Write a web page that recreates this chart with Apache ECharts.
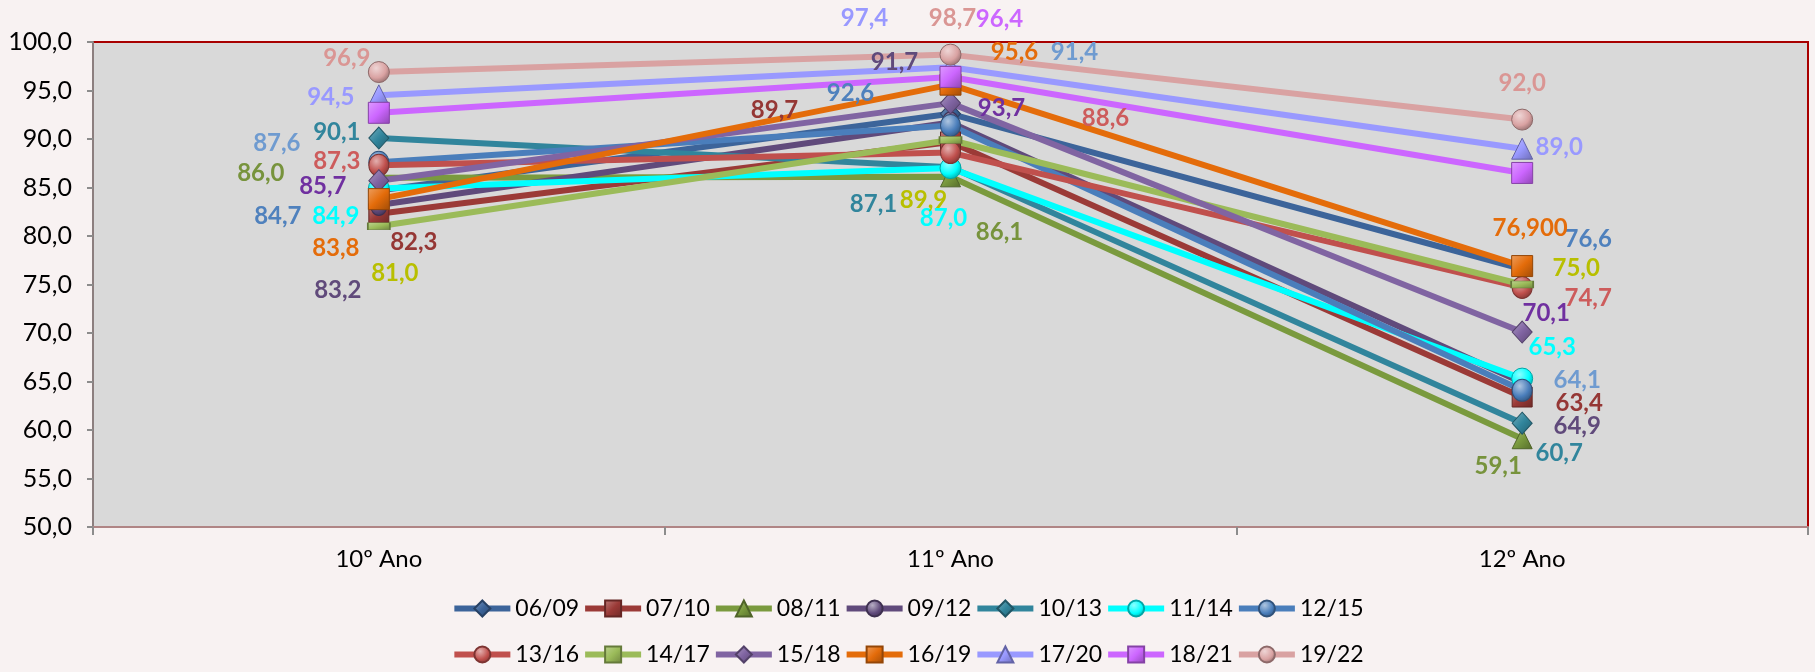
<!DOCTYPE html>
<html>
<head>
<meta charset="utf-8">
<script src="https://cdn.jsdelivr.net/npm/echarts@6/dist/echarts.min.js"></script>
<style>
html,body{margin:0;padding:0;background:#F8F2F2;}
#chart{width:1815px;height:672px;}
</style>
</head>
<body>
<div id="chart"></div>
<script>
// ---- data ----
const categories = ['10º Ano', '11º Ano', '12º Ano'];
const seriesNames = ['06/09','07/10','08/11','09/12','10/13','11/14','12/15','13/16','14/17','15/18','16/19','17/20','18/21','19/22'];
const s0609 = [84.7, 92.6, 76.6];
const s0710 = [82.3, 89.7, 63.4];
const s0811 = [86.0, 86.1, 59.1];
const s0912 = [83.2, 91.7, 64.9];
const s1013 = [90.1, 87.1, 60.7];
const s1114 = [84.9, 87.0, 65.3];
const s1215 = [87.6, 91.4, 64.1];
const s1316 = [87.3, 88.6, 74.7];
const s1417 = [81.0, 89.9, 75.0];
const s1518 = [85.7, 93.7, 70.1];
const s1619 = [83.8, 95.6, 76.9];
const s1720 = [94.5, 97.4, 89.0];
const s1821 = [92.7, 96.4, 86.5];
const s1922 = [96.9, 98.7, 92.0];
const yTicks = [50, 55, 60, 65, 70, 75, 80, 85, 90, 95, 100];

const seriesValues = [s0609,s0710,s0811,s0912,s1013,s1114,s1215,s1316,s1417,s1518,s1619,s1720,s1821,s1922];

// ---- styles ----
const styleCfg = {
  '06/09': {line:'#3C649A', label:'#4F81BD', symbol:'diamond', size:[20,22]},
  '07/10': {line:'#9B3A37', label:'#953735', symbol:'rect', size:20},
  '08/11': {line:'#7A9A3E', label:'#77933C', symbol:'triangle', size:20},
  '09/12': {line:'#604A7B', label:'#604A7B', symbol:'circle', size:[17,21]},
  '10/13': {line:'#31859C', label:'#31859C', symbol:'diamond', size:[20,22]},
  '11/14': {line:'#00FFFF', label:'#00FFFF', symbol:'circle', size:21},
  '12/15': {line:'#4A7EBB', label:'#6F9BD0', symbol:'circle', size:[20,22]},
  '13/16': {line:'#C0504D', label:'#CD5C5C', symbol:'circle', size:[20,22]},
  '14/17': {line:'#9BBB59', label:'#B8BF00', symbol:'rect', size:[22,7]},
  '15/18': {line:'#8064A2', label:'#7030A0', symbol:'diamond', size:[20,22]},
  '16/19': {line:'#E46C0A', label:'#E46C0A', symbol:'rect', size:21},
  '17/20': {line:'#9999FF', label:'#9999FF', symbol:'triangle', size:21},
  '18/21': {line:'#CC66FF', label:'#CC66FF', symbol:'rect', size:21},
  '19/22': {line:'#D9A2A2', label:'#DA9694', symbol:'circle', size:21}
};
// label offsets in px relative to the point (null = no label)
const labelOffsets = {
  '06/09': [[-101,26],[-100,-21],[66,-30]],
  '07/10': [[35,29],[-176,-32],[57,6]],
  '08/11': [[-118,-5],[49,55],[-24,28]],
  '09/12': [[-41,85],[-56,-60],[55,44]],
  '10/13': [[-42,-6],[-77,37],[37,30]],
  '11/14': [[-43,28],[-7,50],[30,-31]],
  '12/15': [[-102,-19],[124,-73],[55,-10]],
  '13/16': [[-42,-4],[155,-34],[66,11]],
  '14/17': [[16,47],[-27,60],[54,-16]],
  '15/18': [[-56,6],[51,5],[24,-19]],
  '16/19': [[-43,49],[64,-32],[8,-38]],
  '17/20': [[-48,2],[-86,-49],[37,-1]],
  '18/21': [null,[49,-58],null],
  '19/22': [[-32,-14],[2,-36],[0,-36]]
};
const labelDecimals = {'16/19': [1,1,3]};

function shade(hex, amt){
  const n = parseInt(hex.slice(1),16);
  let r=(n>>16)&255,g=(n>>8)&255,b=n&255;
  const f = c => Math.max(0,Math.min(255,Math.round(amt>0 ? c+(255-c)*amt : c*(1+amt))));
  return 'rgb('+f(r)+','+f(g)+','+f(b)+')';
}
function fmt(v, d){ return v.toFixed(d).replace('.', ','); }

const FONT = 'Lato, "Open Sans", sans-serif';

const series = seriesNames.map((name, si) => {
  const st = styleCfg[name];
  const vals = seriesValues[si];
  const fill = st.symbol === 'circle' ? {
      type:'radial', x:0.38, y:0.32, r:0.75,
      colorStops:[{offset:0,color:shade(st.line,0.55)},{offset:0.6,color:st.line},{offset:1,color:shade(st.line,-0.35)}]
    } : {
      type:'linear', x:0, y:0, x2:1, y2:1,
      colorStops:[{offset:0,color:shade(st.line,0.35)},{offset:0.5,color:st.line},{offset:1,color:shade(st.line,-0.3)}]
    };
  return {
    name: name,
    type: 'line',
    symbol: st.symbol,
    symbolSize: st.size,
    showAllSymbol: true,
    lineStyle: {color: st.line, width: 6},
    itemStyle: {color: fill, borderColor: shade(st.line,-0.35), borderWidth: 1},
    emphasis: {disabled: true},
    data: vals.map((v, i) => {
      const off = labelOffsets[name][i];
      const dec = labelDecimals[name] ? labelDecimals[name][i] : 1;
      return {
        value: v,
        label: off ? {
          show: true, position: 'inside', offset: off,
          formatter: () => fmt(v, dec),
          color: st.label, fontSize: 24, fontWeight: 'bold', fontFamily: FONT,
          align: 'center', verticalAlign: 'middle'
        } : {show: false}
      };
    })
  };
});

const chart = echarts.init(document.getElementById('chart'), null, {renderer:'canvas'});
const legendCommon = {
  itemWidth: 56, itemHeight: 20, itemGap: 3, left: 'center',
  lineStyle: {width: 6},
  textStyle: {fontSize: 23, fontFamily: FONT, color: '#000'},
  selectedMode: false
};
chart.setOption({
  backgroundColor: '#F8F2F2',
  animation: false,
  grid: {left: 93, right: 7, top: 42, bottom: 145, show: true,
         backgroundColor: '#D9D9D9', borderColor: '#A80000', borderWidth: 2},
  legend: [
    Object.assign({data: seriesNames.slice(0,7), top: 592}, legendCommon),
    Object.assign({data: seriesNames.slice(7), top: 638}, legendCommon)
  ],
  xAxis: {
    type: 'category', data: categories, boundaryGap: true,
    axisLine: {show: true, lineStyle: {color: '#B08585', width: 2}},
    axisTick: {show: true, length: 8, lineStyle: {color: '#8C8C8C', width: 2}},
    axisLabel: {fontSize: 24, fontFamily: FONT, color: '#000', margin: 20},
    splitLine: {show: false}
  },
  yAxis: {
    type: 'value', min: yTicks[0], max: yTicks[yTicks.length-1], interval: yTicks[1]-yTicks[0],
    axisLine: {show: true, lineStyle: {color: '#8C7F7F', width: 2}},
    axisTick: {show: true, length: 6, lineStyle: {color: '#8C8C8C', width: 2}},
    axisLabel: {fontSize: 25, fontFamily: FONT, color: '#000', margin: 21,
                formatter: v => fmt(v, 1)},
    splitLine: {show: false}
  },
  series: series
});
</script>
</body>
</html>
